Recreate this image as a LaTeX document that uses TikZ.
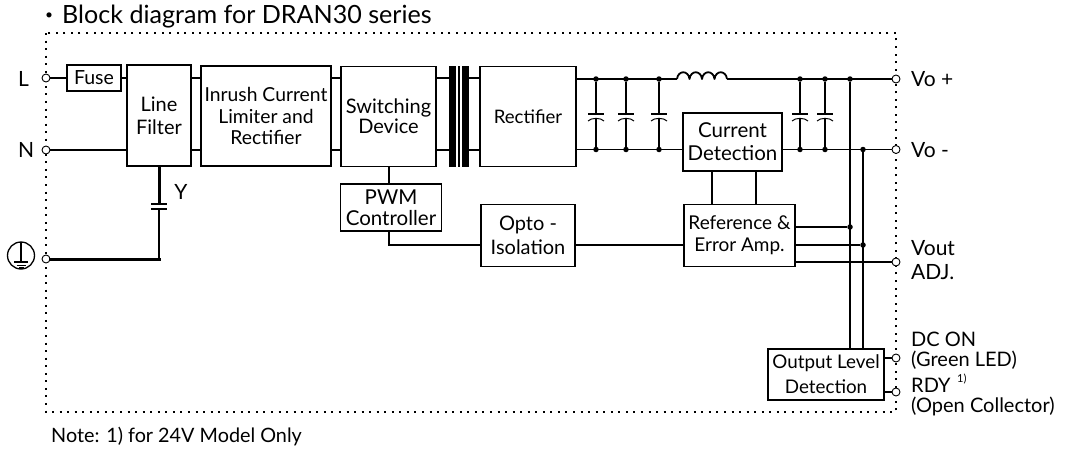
\documentclass[tikz,border=0pt]{standalone}
\usepackage{fontspec}
\setmainfont{Lato}
\newfontfamily\cjkfont{Noto Sans CJK JP}
\tikzset{
    fs/.style 2 args={font=\fontsize{#1}{#2}\selectfont},
    blk/.style={draw,line width=1.8pt,inner sep=0pt,outer sep=0pt,align=center},
    wire/.style={line width=1.8pt},
    thickwire/.style={line width=3pt},
    plate/.style={line width=1pt},
    term/.style={draw,circle,fill=white,line width=0.9pt,minimum size=8pt,inner sep=0pt},
    jn/.style={circle,fill=black,minimum size=5.5pt,inner sep=0pt},
    bar/.style={fill=black,minimum height=101,inner sep=0pt,outer sep=0pt},
    lbl/.style={inner sep=0pt,anchor=west,align=left,fs={21}{24}}
}
\begin{document}
\begin{tikzpicture}[x=1pt,y=-1pt]
    \useasboundingbox (0,0) rectangle (1071,450);
    % frame
    \draw[line width=2pt,dash pattern=on 2pt off 5.55pt] (46,33) rectangle (896,412);
    % blocks
    \node[blk,fs={19.5}{22},minimum width=54,minimum height=26] (fuse) at (94,78) {Fuse};
    \node[blk,fs={20}{23},minimum width=64,minimum height=101] (filter) at (159,115.5) {Line\\Filter};
    \node[blk,fs={19.3}{21.7},minimum width=130,minimum height=100] (inrush) at (266,116) {Inrush Current\\Limiter and\\Rectifier};
    \node[blk,fs={20}{20},minimum width=95,minimum height=100] (switch) at (388.5,116.5) {Switching\\Device};
    \node[blk,fs={18.6}{22},minimum width=96,minimum height=100] (rect) at (528,116.5) {Rectifier};
    \node[blk,fs={20.5}{20.5},minimum width=101,minimum height=47] (pwm) at (391,207.5) {PWM\\Controller};
    \node[blk,fs={20}{24},minimum width=94,minimum height=62] (opto) at (528,235.5) {Opto -\\Isolation};
    \node[blk,fs={20.5}{23},minimum width=98.5,minimum height=58] (current) at (732.5,142) {Current\\Detection};
    \node[blk,fs={19}{21.7},minimum width=111.5,minimum height=62] (ref) at (739.5,235.5) {Reference \&\\Error Amp.};
    \node[blk,fs={18.8}{25},minimum width=116,minimum height=51] (level) at (826,374.5) {Output Level\\Detection};
    % transformer
    \node[bar,minimum width=7] (coreA) at (452.5,116) {};
    \node[bar,minimum width=1.6] (coreB) at (459.2,116) {};
    \node[bar,minimum width=7] (coreC) at (465.5,116) {};
    % terminals
    \node[term] (tL) at (46,78) {};
    \node[term] (tN) at (46,150) {};
    \node[term] (tE) at (46,259) {};
    \node[term] (tVp) at (896,79) {};
    \node[term] (tVm) at (896,149.5) {};
    \node[term] (tAdj) at (896,262) {};
    \node[term] (tOn) at (896,358) {};
    \node[term] (tRdy) at (896,392) {};
    % junctions
    \node[jn] (a1) at (596,79) {};
    \node[jn] (a2) at (626,79) {};
    \node[jn] (a3) at (659,79) {};
    \node[jn] (a4) at (800,79) {};
    \node[jn] (a5) at (825,79) {};
    \node[jn] (a6) at (850,79) {};
    \node[jn] (b1) at (596,149.5) {};
    \node[jn] (b2) at (626,149.5) {};
    \node[jn] (b3) at (659,149.5) {};
    \node[jn] (b4) at (800,149.5) {};
    \node[jn] (b5) at (825,149.5) {};
    \node[jn] (b6) at (863,149.5) {};
    \node[jn] (c1) at (850,227) {};
    \node[jn] (c2) at (863,245) {};
    % input side
    \draw[wire] (tL) -- (fuse);
    \draw[wire] (fuse.east) -- (fuse.east -| filter.west);
    \draw[wire] (tN) -- (tN -| filter.west);
    \draw[wire] (filter.east |- tL) -- (inrush.west |- tL);
    \draw[wire] (filter.east |- tN) -- (inrush.west |- tN);
    \draw[wire] (inrush.east |- tL) -- (switch.west |- tL);
    \draw[wire] (inrush.east |- tN) -- (switch.west |- tN);
    \draw[wire] (switch.east |- tL) -- (coreA.west |- tL);
    \draw[wire] (switch.east |- tN) -- (coreA.west |- tN);
    \draw[wire] (coreC.east |- tL) -- (rect.west |- tL);
    \draw[wire] (coreC.east |- tN) -- (rect.west |- tN);
    % Y capacitor
    \coordinate (yT) at (159,204);
    \coordinate (yB) at (159,209);
    \draw[thickwire] (filter.south) -- (yT);
    \draw[wire] (151,204) -- (167,204);
    \draw[wire] (151,209) -- (167,209);
    \draw[wire] (yB) -- (yB |- tE);
    \draw[thickwire,line cap=rect] (tE) -- (tE -| yB);
    % output rails
    \coordinate (indL) at (677,79);
    \coordinate (indR) at (727,79);
    \draw[wire] (rect.east |- a1) -- (indL);
    \draw[wire,line join=round] (indL) .. controls +(1,-9) and +(-1,-9) .. ++(12.5,0)
        .. controls +(1,-9) and +(-1,-9) .. ++(12.5,0)
        .. controls +(1,-9) and +(-1,-9) .. ++(12.5,0)
        .. controls +(1,-9) and +(-1,-9) .. (indR);
    \draw[wire] (indR) -- (tVp);
    \draw[wire] (rect.east |- b1) -- (current.west |- b1);
    \draw[wire] (current.east |- b1) -- (tVm);
    % output capacitors
    \draw[wire] (a1) -- (596,114) (588,114) -- (604,114);
    \draw[plate] (588,121) .. controls (591,117.5) and (601,117.5) .. (604,121);
    \draw[wire] (596,118) -- (b1);
    \draw[wire] (a2) -- (626,114) (618,114) -- (634,114);
    \draw[plate] (618,121) .. controls (621,117.5) and (631,117.5) .. (634,121);
    \draw[wire] (626,118) -- (b2);
    \draw[wire] (a3) -- (659,114) (651,114) -- (667,114);
    \draw[plate] (651,121) .. controls (654,117.5) and (664,117.5) .. (667,121);
    \draw[wire] (659,118) -- (b3);
    \draw[wire] (a4) -- (800,114) (792,114) -- (808,114);
    \draw[plate] (792,121) .. controls (795,117.5) and (805,117.5) .. (808,121);
    \draw[wire] (800,118) -- (b4);
    \draw[wire] (a5) -- (825,114) (817,114) -- (833,114);
    \draw[plate] (817,121) .. controls (820,117.5) and (830,117.5) .. (833,121);
    \draw[wire] (825,118) -- (b5);
    % control loop
    \coordinate (pwmT) at (389,184);
    \coordinate (pwmB) at (389,231);
    \draw[wire] (pwmT) -- (pwmT |- switch.south);
    \draw[wire] (pwmB) |- (opto.west |- c2);
    \draw[wire] (opto.east |- c2) -- (ref.west |- c2);
    \draw[wire] (712,171) -- (712,204.5);
    \draw[wire] (756,171) -- (756,204.5);
    \draw[wire] (ref.east |- c1) -- (c1);
    \draw[wire] (ref.east |- c2) -- (c2);
    \draw[wire] (ref.east |- tAdj) -- (tAdj);
    % sense lines
    \draw[wire] (a6) -- (a6 |- level.north);
    \draw[wire] (b6) -- (b6 |- level.north);
    \draw[wire] (level.east |- tOn) -- (tOn);
    \draw[wire] (level.east |- tRdy) -- (tRdy);
    % earth symbol
    \node[draw,circle,line width=1.3pt,minimum size=27pt,inner sep=0pt] (earth) at (21,255.5) {};
    \draw[line width=1.1pt] (21,242) -- (21,262);
    \draw[line width=1.1pt] (14,262) -- (28,262);
    \draw[line width=1.1pt] (16.5,265.3) -- (25.5,265.3);
    \draw[line width=1.1pt] (18.5,268) -- (23.5,268);
    % labels
    \node[inner sep=0pt,fs={24}{26}] (bullet) at (49.5,19) {\cjkfont ・};
    \node[inner sep=0pt,anchor=base west,fs={25.1}{28}] (title) at (62,23.5) {Block diagram for DRAN30 series};
    \node[lbl] (lL) at (18,79) {L};
    \node[lbl] (lN) at (18,150) {N};
    \node at (181,192) [lbl,anchor=center] (lY) {Y};
    \node[lbl] (lVp) at (911,79) {Vo +};
    \node[lbl] (lVm) at (911,150) {Vo -};
    \node[lbl,fs={21}{24}] (lVout) at (911,260) {Vout\\ADJ.};
    \node[lbl,fs={20}{20}] (lOn) at (911,351) {DC ON\\(Green LED)};
    \node[lbl,fs={20}{20}] (lRdy) at (911,397) {RDY\\(Open Collector)};
    \node[inner sep=0pt,anchor=west,fs={11}{12}] (lSup) at (957,379) {1)};
    \node[inner sep=0pt,anchor=west,fs={19.8}{22}] (note) at (51,437) {Note: 1) for 24V Model Only};
\end{tikzpicture}
\end{document}
